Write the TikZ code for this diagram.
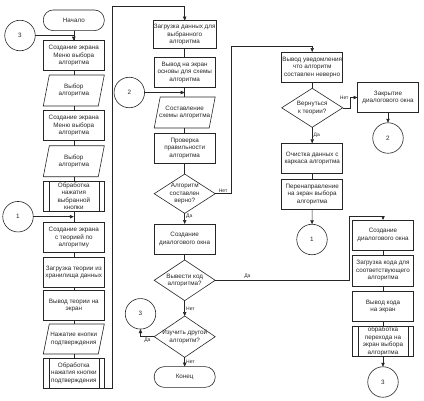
\documentclass[tikz,border=0pt]{standalone}
\usepackage{fontspec}
\setmainfont{Liberation Sans}
\usetikzlibrary{arrows.meta,shapes.geometric}

\begin{document}
\begin{tikzpicture}[x=1pt, y=-1pt, line width=0.6pt, color=black!85,
    every node/.style={font=\fontsize{6.3}{7.5}\selectfont, align=center, outer sep=0pt},
    blok/.style={draw, rectangle, minimum width=61pt, minimum height=30pt, inner sep=0.5pt},
    vvod/.style={rectangle, minimum width=61pt, minimum height=31pt, inner sep=0.5pt,
      append after command={\pgfextra{
        \draw ([xshift=6pt]\tikzlastnode.north west) -- (\tikzlastnode.north east)
          -- ([xshift=-6pt]\tikzlastnode.south east) -- (\tikzlastnode.south west) -- cycle;}}},
    podprogr/.style={blok, path picture={
      \draw ([xshift=5.5pt]path picture bounding box.north west) -- ([xshift=5.5pt]path picture bounding box.south west)
            ([xshift=-5.5pt]path picture bounding box.north east) -- ([xshift=-5.5pt]path picture bounding box.south east);}},
    terminal/.style={draw, rectangle, rounded corners=10pt, minimum width=61pt, minimum height=20.7pt},
    romb/.style={draw, diamond, minimum width=61pt, minimum height=40pt, inner sep=0pt},
    soed/.style={draw, circle, minimum size=30.5pt, inner sep=0pt},
    metka/.style={font=\fontsize{5}{6}\selectfont, inner sep=1.5pt},
    strelka/.style={-{Triangle[length=4pt,width=3.4pt]}}]
  \useasboundingbox (0,0) rectangle (424,400);

  % Первая колонка: меню и теория
  \node[terminal] (nachalo) at (73.8,20.3) {Начало};
  \node[soed] (s3a) at (20,35.5) {3};
  \node[blok] (menu1) at (73.8,55.7) {Создание экрана\\Меню выбора\\алгоритма};
  \node[vvod] (vybor1) at (73.8,90.5) {Выбор\\алгоритма};
  \node[blok] (menu2) at (73.8,125.7) {Создание экрана\\Меню выбора\\алгоритма};
  \node[vvod] (vybor2) at (73.8,161.2) {Выбор\\алгоритма};
  \node[podprogr] (obrKnopki) at (73.8,196.3) {Обработка\\нажатия\\выбранной\\кнопки};
  \node[soed] (s1a) at (18,216.7) {1};
  \node[blok] (teoriya) at (73.8,237.7) {Создание экрана\\с теорией по\\алгоритму};
  \node[blok] (zagrTeorii) at (73.8,272.3) {Загрузка теории из\\хранилища данных};
  \node[blok] (vyvodTeorii) at (73.8,305.7) {Вывод теории на\\экран};
  \node[vvod, minimum height=30pt] (nazhatie) at (73.8,339) {Нажатие кнопки\\подтверждения};
  \node[podprogr] (obrPodtv) at (73.8,373) {Обработка\\нажатия кнопки\\подтверждения};
  \coordinate (vozvrat) at (112.7,6.7);

  % Вторая колонка: составление схемы
  \node[blok, minimum height=27.7pt] (zagrDannyh) at (184.7,34.5) {Загрузка данных для\\выбранного\\алгоритма};
  \node[blok] (osnova) at (184.7,72.3) {Вывод на экран\\основы для схемы\\алгоритма};
  \node[soed] (s2a) at (129.3,92.5) {2};
  \node[vvod] (sostavl) at (184.7,112.5) {Составление\\схемы алгоритма};
  \node[blok] (proverka) at (184.7,148.3) {Проверка\\правильности\\алгоритма};
  \node[romb, minimum height=39.3pt, label=center:{Алгоритм\\составлен\\верно?}] (vernoQ) at (184.7,193.7) {};
  \node[blok] (dialog1) at (184.7,239) {Создание\\диалогового окна};
  \node[romb, minimum height=40.7pt, label=center:{Вывести код\\алгоритма?}] (vyvestiQ) at (184.7,280.3) {};
  \node[romb, minimum height=41.3pt, label=center:{Изучить другой\\алгоритм?}] (izuchitQ) at (184.7,336.7) {};
  \node[soed] (s3b) at (140.5,313.8) {3};
  \node[terminal] (konec) at (184.7,377) {Конец};
  \coordinate (ugol1) at (231,46.7);
  \coordinate (ugol2) at (349.3,216);

  % Ветка ошибки
  \node[blok] (uvedoml) at (312.2,67) {Вывод уведомления\\что алгоритм\\составлен неверно};
  \node[romb, minimum height=39pt, label=center:{Вернуться\\к теории?}] (vernutQ) at (312.2,107.8) {};
  \node[blok] (zakrytie) at (388,97.5) {Закрытие\\диалогового окна};
  \node[soed] (s2b) at (388,138) {2};
  \node[blok] (ochistka) at (312.2,158.3) {Очистка данных с\\каркаса алгоритма};
  \node[blok] (perenapr) at (312.2,194.3) {Перенаправление\\на экран выбора\\алгоритма};
  \node[soed] (s1b) at (312,239.5) {1};
  \coordinate (ugol3) at (350,97.5);

  % Вывод кода
  \node[blok] (dialog2) at (383,235) {Создание\\диалогового окна};
  \node[blok, minimum height=31pt] (zagrKoda) at (383,270.5) {Загрузка кода для\\соответствующего\\алгоритма};
  \node[blok] (vyvodKoda) at (383,306.7) {Вывод кода\\на экран};
  \node[podprogr] (obrPerehoda) at (383,341.3) {обработка\\перехода на\\экран выбора\\алгоритма};
  \node[soed] (s3c) at (383,382) {3};

  % Связи
  \draw (nachalo) -- (menu1) -- (vybor1) -- (menu2) -- (vybor2) -- (obrKnopki) -- (teoriya)
        -- (zagrTeorii) -- (vyvodTeorii) -- (nazhatie) -- (obrPodtv);
  \draw[strelka] (s3a.east) -| (menu1.north);
  \draw[strelka] (s1a.east) -- (s1a.east -| obrKnopki.south);
  \draw[strelka] (obrPodtv.south east) -| (vozvrat) -| (zagrDannyh.north);

  \draw (zagrDannyh) -- (osnova) -- (sostavl) -- (proverka) -- (vernoQ);
  \draw[strelka] (s2a.east) -- (s2a.east -| osnova.south);
  \draw[strelka] (vernoQ) -- node[metka, right, pos=0.3] {Да} (dialog1);
  \draw (dialog1) -- (vyvestiQ);
  \draw[strelka] (vyvestiQ) -- node[metka, right] {Нет} (izuchitQ);
  \draw[strelka] (izuchitQ) -- node[metka, right] {Нет} (konec);
  \draw[strelka] (izuchitQ.west) -- node[metka, below] {Да} (izuchitQ.west -| s3b) -- (s3b.south);
  \draw[strelka] (vernoQ.east) -- node[metka, above] {Нет} (vernoQ.east -| ugol1) -- (ugol1) -| (uvedoml.north);
  \draw[strelka] (vyvestiQ.east) -- node[metka, above, pos=0.24] {Да} (vyvestiQ.east -| ugol2) -- (ugol2) -| (dialog2.north);

  \draw (uvedoml) -- (vernutQ);
  \draw[strelka] (vernutQ) -- node[metka, right] {Да} (ochistka);
  \draw (ochistka) -- (perenapr);
  \draw[strelka] (perenapr) -- (s1b);
  \draw[strelka] (vernutQ.east) -| (ugol3) node[metka, left] {Нет} -- (zakrytie.west);
  \draw[strelka] (zakrytie) -- (s2b);

  \draw (dialog2) -- (zagrKoda) -- (vyvodKoda) -- (obrPerehoda);
  \draw[strelka] (obrPerehoda) -- (s3c);
\end{tikzpicture}
\end{document}
